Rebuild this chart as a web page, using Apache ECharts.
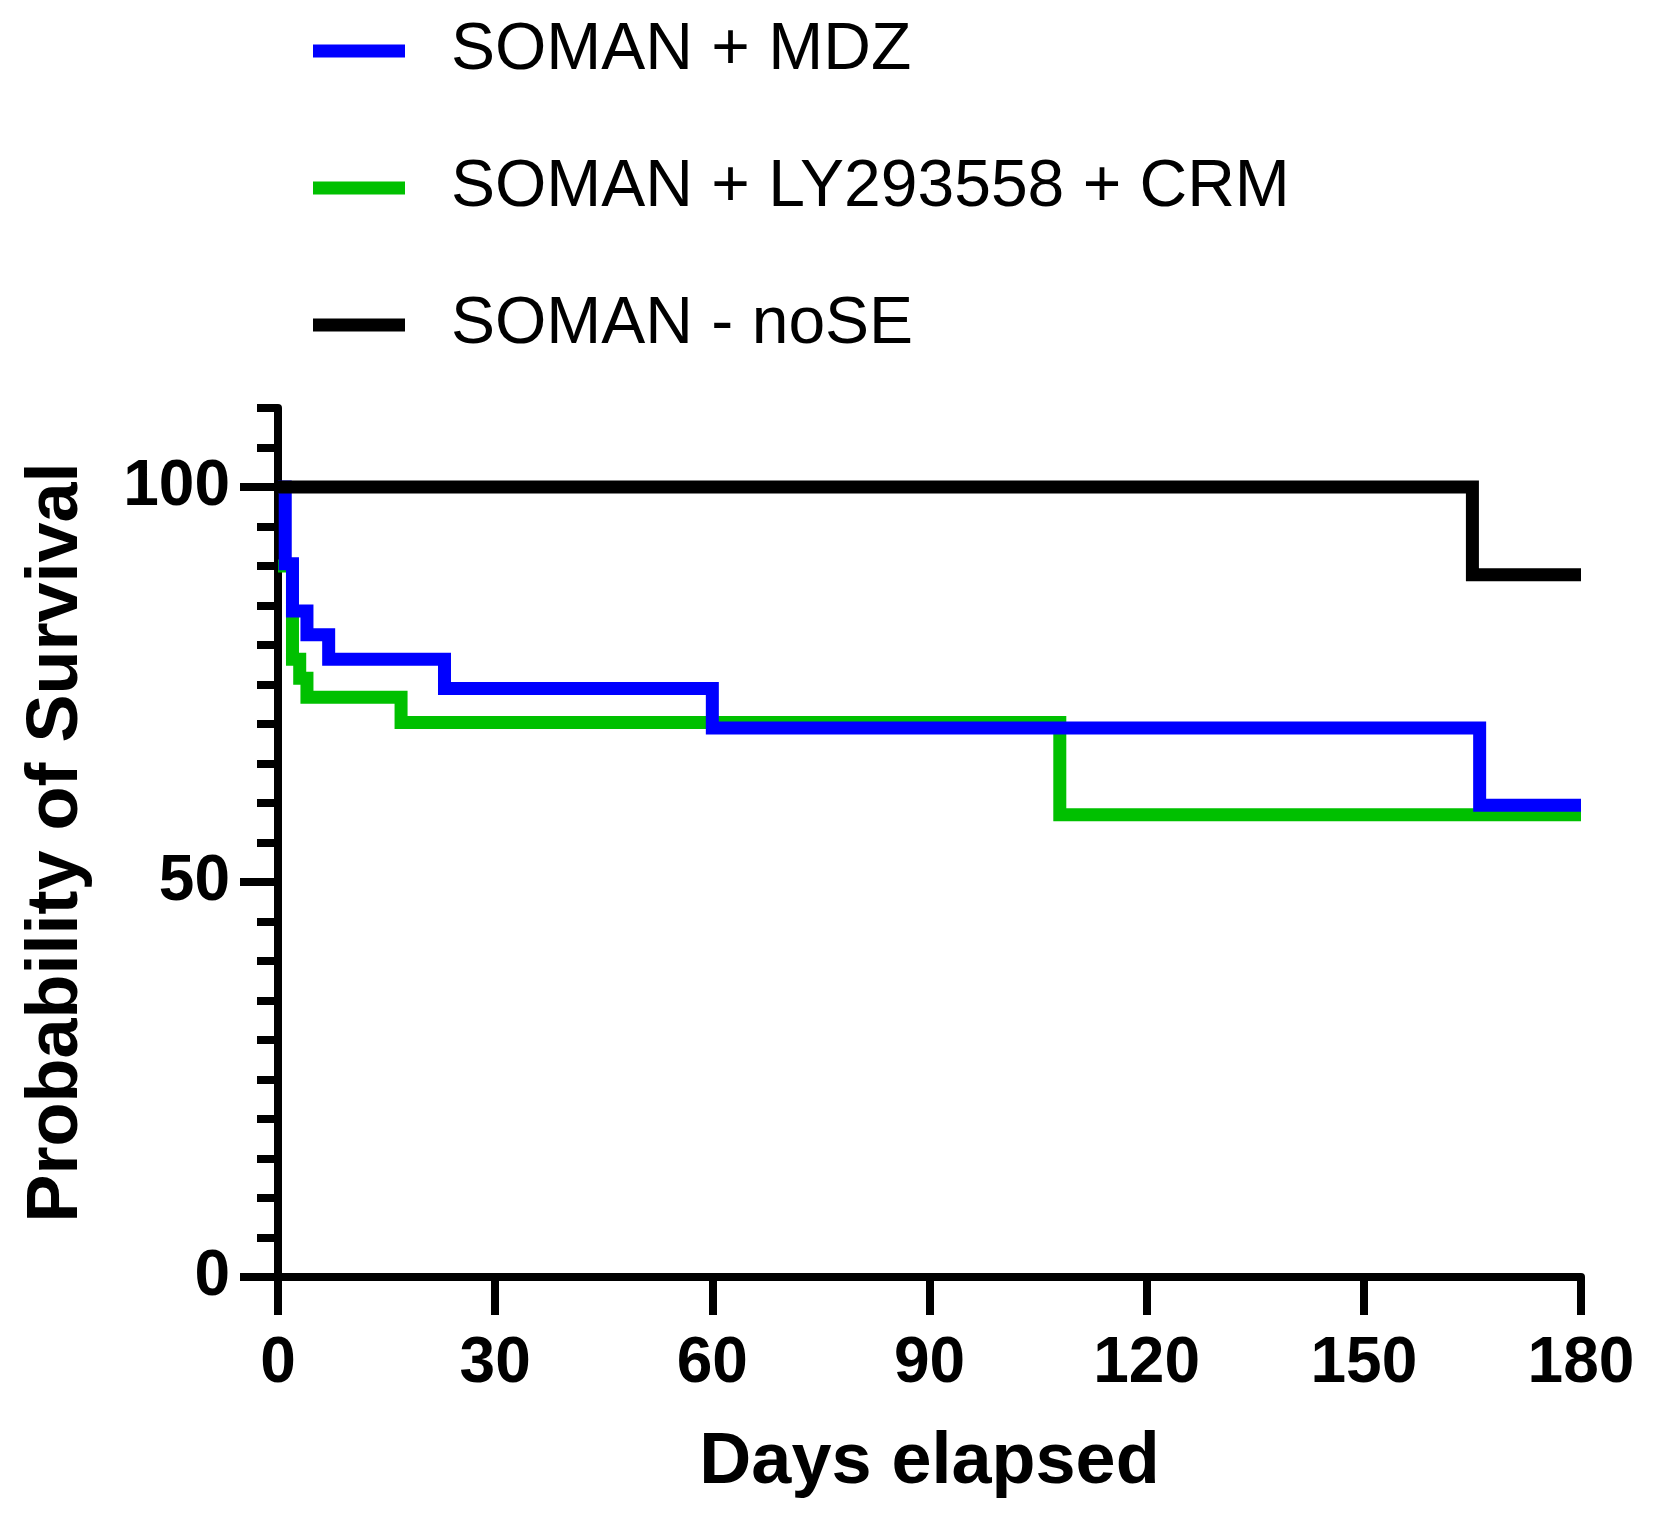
<!DOCTYPE html>
<html>
<head>
<meta charset="utf-8">
<script src="https://cdn.jsdelivr.net/npm/echarts@6/dist/echarts.min.js"></script>
<style>
  html, body { margin: 0; padding: 0; background: #fff; }
  #main { width: 1658px; height: 1513px; }
</style>
</head>
<body>
<div id="main"></div>
<script>
// 图例名称
var seriesNames = ['SOMAN + MDZ', 'SOMAN + LY293558 + CRM', 'SOMAN - noSE'];
var seriesColors = ['#0000FF', '#00C000', '#000000'];

// Kaplan-Meier 阶梯数据（天数 / 生存率%）
var mdzDays = [0, 1, 2, 4, 7, 23, 60, 166, 180];
var mdzSurv = [100, 90.3, 84.3, 81.3, 78.2, 74.5, 69.5, 59.7, 59.7];

var lyDays = [0, 2, 3, 4, 17, 108, 180];
var lySurv = [90, 78.2, 75.8, 73.4, 70.2, 58.5, 58.5];

var noseDays = [0, 165, 180];
var noseSurv = [100, 88.9, 88.9];

// 坐标轴刻度
var xTicks = [0, 30, 60, 90, 120, 150, 180];
var yLabelTicks = [0, 50, 100];

var FONT = '"Liberation Sans", Arial, Helvetica, sans-serif';

function pairs(xs, ys) {
  return xs.map(function (x, i) { return [x, ys[i]]; });
}

function stepLine(name, color, xs, ys, z) {
  return {
    name: name,
    type: 'line',
    step: 'end',
    symbol: 'none',
    clip: false,
    z: z,
    color: color,
    lineStyle: { color: color, width: 13, join: 'miter', cap: 'butt' },
    data: pairs(xs, ys)
  };
}

var myChart = echarts.init(document.getElementById('main'));

var option = {
  animation: false,
  backgroundColor: '#fff',
  textStyle: { fontFamily: FONT },
  grid: {
    left: 278,
    right: 77,
    top: 408,
    bottom: 236,
    containLabel: false,
    outerBoundsMode: 'none'
  },
  legend: {
    orient: 'vertical',
    left: 308,
    top: 13,
    itemWidth: 92,
    itemHeight: 13,
    itemGap: 71,
    icon: 'rect',
    data: seriesNames,
    textStyle: {
      fontFamily: FONT,
      fontSize: 66,
      lineHeight: 66,
      color: '#000',
      padding: [0, 0, 0, 41]
    }
  },
  xAxis: {
    type: 'value',
    min: xTicks[0],
    max: xTicks[xTicks.length - 1],
    interval: 30,
    name: 'Days elapsed',
    nameLocation: 'middle',
    nameGap: 150,
    nameTextStyle: { fontFamily: FONT, fontSize: 72, fontWeight: 'bold', color: '#000' },
    axisLine: { show: true, lineStyle: { color: '#000', width: 8 } },
    axisTick: { show: true, length: 38, lineStyle: { color: '#000', width: 8 } },
    axisLabel: { fontFamily: FONT, fontSize: 64, fontWeight: 'bold', color: '#000', margin: 55 },
    splitLine: { show: false }
  },
  yAxis: [
    {
      // 次刻度（每5）
      type: 'value',
      position: 'left',
      min: 0,
      max: 110,
      interval: 5,
      axisLine: { show: true, lineStyle: { color: '#000', width: 8 } },
      axisTick: { show: true, length: 21, lineStyle: { color: '#000', width: 8 } },
      axisLabel: { show: false },
      splitLine: { show: false },
      name: 'Probability of Survival',
      nameLocation: 'middle',
      nameGap: 185,
      nameRotate: 90,
      nameTextStyle: { fontFamily: FONT, fontSize: 72, fontWeight: 'bold', color: '#000' }
    },
    {
      // 主刻度 0 / 50 / 100
      type: 'value',
      position: 'left',
      offset: 0,
      min: 0,
      max: 110,
      axisLine: { show: false },
      axisTick: { show: true, length: 38, customValues: yLabelTicks, lineStyle: { color: '#000', width: 8 } },
      axisLabel: { show: true, customValues: yLabelTicks, fontFamily: FONT, fontSize: 64, fontWeight: 'bold', color: '#000', margin: 48 },
      splitLine: { show: false }
    }
  ],
  series: [
    stepLine(seriesNames[1], seriesColors[1], lyDays, lySurv, 2),
    stepLine(seriesNames[0], seriesColors[0], mdzDays, mdzSurv, 3),
    stepLine(seriesNames[2], seriesColors[2], noseDays, noseSurv, 4)
  ]
};

option && myChart.setOption(option);
</script>
</body>
</html>
